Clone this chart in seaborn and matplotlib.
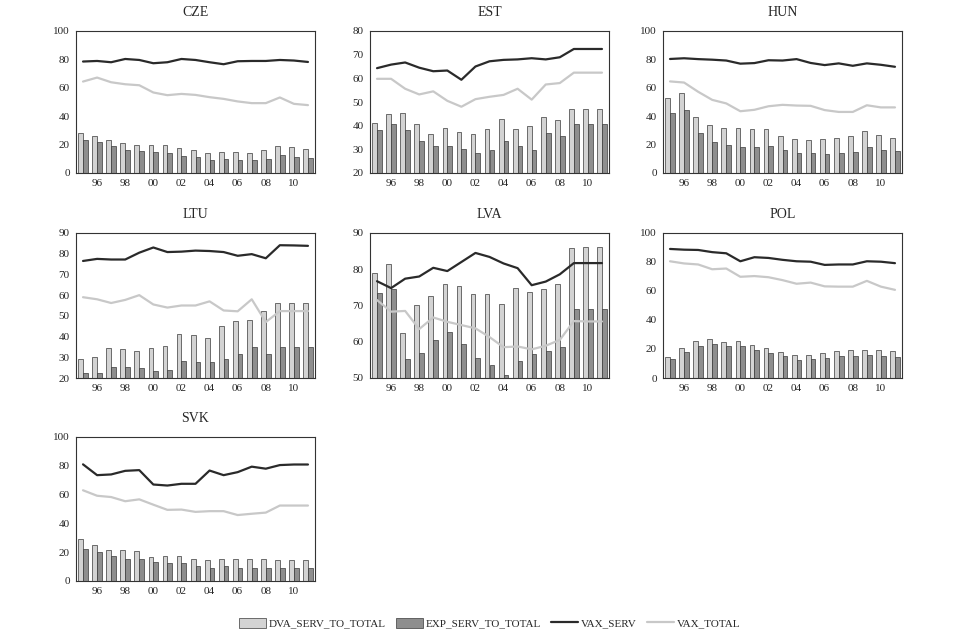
import numpy as np
import pandas as pd
import matplotlib
matplotlib.use("Agg")
import matplotlib.pyplot as plt
from matplotlib.patches import Patch
from matplotlib.lines import Line2D
import seaborn as sns

years = list(range(1995, 2012))
countries = ["CZE", "EST", "HUN", "LTU", "LVA", "POL", "SVK"]

dva = {
    "CZE": [28.1, 25.8, 23.0, 20.8, 19.9, 19.9, 19.9, 17.3, 15.9, 13.8, 14.5, 14.5, 14.3, 15.9, 18.7, 18.3, 16.9],
    "EST": [41.0, 45.0, 45.5, 40.5, 36.5, 39.2, 37.5, 36.3, 38.5, 43.0, 38.5, 40.0, 43.5, 42.3, 47.2, 47.2, 47.2],
    "HUN": [52.5, 56.5, 39.5, 34.0, 31.5, 32.0, 31.0, 31.2, 26.0, 24.0, 23.0, 23.7, 25.0, 26.0, 29.7, 27.0, 25.0],
    "LTU": [29.0, 30.2, 34.5, 34.0, 33.2, 34.7, 35.3, 41.3, 40.7, 39.3, 45.0, 47.7, 48.2, 52.3, 56.0, 56.0, 56.0],
    "LVA": [79.0, 81.5, 62.3, 70.0, 72.7, 76.0, 75.3, 73.2, 73.1, 70.5, 74.8, 73.8, 74.5, 75.8, 85.8, 86.0, 86.0],
    "POL": [14.2, 20.5, 25.2, 26.8, 24.8, 25.5, 22.8, 20.6, 17.7, 15.7, 16.0, 17.0, 18.5, 19.0, 19.3, 19.6, 18.7],
    "SVK": [29.0, 25.3, 21.7, 21.2, 20.8, 16.6, 17.4, 17.4, 15.1, 14.9, 15.1, 15.1, 15.3, 15.4, 14.6, 14.6, 14.6],
}
exp = {
    "CZE": [23.0, 21.8, 18.7, 16.4, 15.5, 14.5, 14.0, 12.2, 11.2, 9.4, 9.8, 9.4, 8.9, 9.8, 12.4, 11.5, 10.3],
    "EST": [38.0, 40.8, 38.0, 33.5, 31.5, 31.3, 30.3, 28.6, 29.9, 33.6, 31.5, 29.8, 36.7, 35.6, 40.6, 40.6, 40.6],
    "HUN": [42.0, 44.5, 28.5, 22.0, 19.8, 18.0, 18.0, 18.7, 16.0, 14.2, 14.0, 13.7, 14.0, 14.7, 18.5, 16.5, 15.3],
    "LTU": [22.5, 22.6, 25.1, 25.4, 24.6, 23.2, 23.8, 28.0, 27.5, 27.6, 29.3, 31.5, 35.2, 31.6, 35.1, 35.1, 35.1],
    "LVA": [73.5, 74.6, 55.3, 57.0, 60.4, 62.8, 59.5, 55.5, 53.6, 50.7, 54.8, 56.6, 57.5, 58.5, 69.0, 69.0, 69.0],
    "POL": [13.0, 18.1, 22.0, 23.2, 22.0, 22.2, 19.3, 17.1, 14.9, 12.6, 13.3, 13.6, 14.9, 15.0, 16.0, 15.3, 14.3],
    "SVK": [22.5, 20.2, 17.3, 15.5, 15.5, 13.3, 12.8, 12.8, 10.7, 9.3, 10.2, 9.1, 9.1, 9.3, 9.3, 9.3, 9.3],
}
vax_serv = {
    "CZE": [78.5, 78.9, 78.0, 80.3, 79.6, 77.3, 78.0, 80.3, 79.6, 78.0, 76.6, 78.7, 78.9, 78.9, 79.6, 79.2, 78.2],
    "EST": [64.3, 65.8, 66.7, 64.5, 63.0, 63.3, 59.4, 65.0, 67.2, 67.8, 68.0, 68.5, 68.0, 68.9, 72.4, 72.4, 72.4],
    "HUN": [80.3, 80.8, 80.2, 79.8, 79.2, 77.0, 77.4, 79.4, 79.2, 80.2, 77.5, 76.0, 77.2, 75.5, 77.2, 76.2, 74.8],
    "LTU": [76.5, 77.5, 77.2, 77.2, 80.5, 83.0, 80.8, 81.0, 81.5, 81.3, 80.8, 79.0, 79.8, 77.8, 84.1, 84.0, 83.8],
    "LVA": [76.7, 74.8, 77.4, 78.0, 80.4, 79.5, 82.0, 84.5, 83.4, 81.6, 80.3, 75.6, 76.6, 78.6, 81.7, 81.7, 81.7],
    "POL": [89.0, 88.5, 88.3, 86.8, 86.0, 80.5, 83.3, 82.8, 81.5, 80.5, 80.2, 78.0, 78.3, 78.3, 80.5, 80.2, 79.2],
    "SVK": [81.0, 73.5, 74.0, 76.5, 77.0, 67.0, 66.3, 67.5, 67.5, 76.7, 73.5, 75.6, 79.4, 78.0, 80.5, 80.9, 80.9],
}
vax_total = {
    "CZE": [64.4, 67.2, 63.9, 62.5, 61.8, 56.7, 54.8, 55.7, 55.0, 53.4, 52.2, 50.4, 49.2, 49.2, 53.2, 48.7, 47.8],
    "EST": [59.8, 59.8, 55.6, 53.2, 54.5, 50.5, 48.0, 51.2, 52.2, 53.0, 55.6, 51.0, 57.4, 58.0, 62.4, 62.4, 62.4],
    "HUN": [64.5, 63.7, 57.2, 51.5, 49.0, 43.5, 44.5, 47.0, 48.0, 47.5, 47.3, 44.3, 43.0, 43.0, 47.7, 46.2, 46.2],
    "LTU": [59.0, 58.0, 56.2, 57.7, 60.0, 55.5, 54.0, 55.0, 55.0, 57.0, 52.6, 52.2, 58.0, 47.0, 52.3, 52.3, 52.3],
    "LVA": [71.5, 68.3, 68.5, 63.5, 66.7, 65.5, 64.6, 63.7, 61.3, 58.5, 58.7, 57.9, 58.9, 60.5, 65.7, 65.6, 65.6],
    "POL": [80.5, 79.0, 78.3, 75.0, 75.5, 69.8, 70.3, 69.5, 67.5, 65.0, 65.8, 63.2, 63.0, 63.0, 67.0, 63.0, 60.8],
    "SVK": [63.0, 59.2, 58.3, 55.4, 56.7, 53.0, 49.4, 49.6, 48.0, 48.5, 48.5, 45.8, 46.7, 47.5, 52.4, 52.4, 52.4],
}
y_ranges = {
    "CZE": (0, 100, 20), "EST": (20, 80, 10), "HUN": (0, 100, 20),
    "LTU": (20, 90, 10), "LVA": (50, 90, 10), "POL": (0, 100, 20),
    "SVK": (0, 100, 20),
}
year_labels = ["96", "98", "00", "02", "04", "06", "08", "10"]

series_names = ["DVA_SERV_TO_TOTAL", "EXP_SERV_TO_TOTAL", "VAX_SERV", "VAX_TOTAL"]
c_dva, c_exp, c_serv, c_tot = "#d3d3d3", "#8e8e8e", "#2a2a2a", "#c8c8c8"
edge = "#3a3a3a"

sns.set_style("white")
plt.rcParams["font.family"] = ["Liberation Serif", "DejaVu Serif"]

fig = plt.figure(figsize=(9.6, 6.31), dpi=100)
W, H = 960.0, 631.0
col_left = [76, 370, 663]
rows = [(31, 173), (233, 378), (437, 581)]
axw = 239

for k, c in enumerate(countries):
    r, col = divmod(k, 3)
    top, bot = rows[r]
    ax = fig.add_axes([col_left[col] / W, 1 - bot / H, axw / W, (bot - top) / H])
    long = pd.DataFrame({
        "year": [str(y) for y in years] * 2,
        "value": dva[c] + exp[c],
        "series": [series_names[0]] * len(years) + [series_names[1]] * len(years),
    })
    sns.barplot(data=long, x="year", y="value", hue="series",
                hue_order=series_names[:2], palette=[c_dva, c_exp],
                width=0.68, edgecolor=edge, linewidth=0.5, saturation=1,
                ax=ax, legend=False)
    idx = np.arange(len(years))
    sns.lineplot(x=idx, y=vax_serv[c], color=c_serv, lw=1.6, ax=ax)
    sns.lineplot(x=idx, y=vax_total[c], color=c_tot, lw=1.6, ax=ax)

    lo, hi, st = y_ranges[c]
    ax.set_ylim(lo, hi)
    ax.set_xlim(-0.5, len(years) - 0.5)
    ax.set_yticks(np.arange(lo, hi + 0.1, st))
    ax.set_xticks(np.arange(0.5, len(years) - 1, 1.0))
    ax.set_xticklabels([])
    ax.set_xticks(np.arange(1, len(years), 2), minor=True)
    ax.set_xticklabels(year_labels, minor=True)
    ax.tick_params(axis="x", which="major", direction="out", length=3, width=0.7, color="#333333")
    ax.tick_params(axis="x", which="minor", length=0, labelsize=8, pad=4)
    ax.tick_params(axis="y", direction="out", length=3, width=0.7, color="#333333", labelsize=8, pad=1.5)
    ax.set_xlabel("")
    ax.set_ylabel("")
    for s in ax.spines.values():
        s.set_visible(True)
        s.set_color("#333333")
        s.set_linewidth(0.8)
    ax.set_title(c, fontsize=10, pad=11)

handles = [
    Patch(facecolor=c_dva, edgecolor=edge, linewidth=0.5),
    Patch(facecolor=c_exp, edgecolor=edge, linewidth=0.5),
    Line2D([0], [0], color=c_serv, lw=1.6),
    Line2D([0], [0], color=c_tot, lw=1.6),
]
fig.legend(handles, series_names, loc="lower center", bbox_to_anchor=(0.51, -0.012),
           ncol=4, frameon=False, fontsize=8, handlelength=2.4, handleheight=1.0,
           columnspacing=0.9, handletextpad=0.3)

fig.savefig("out.png", dpi=100, facecolor="white")
